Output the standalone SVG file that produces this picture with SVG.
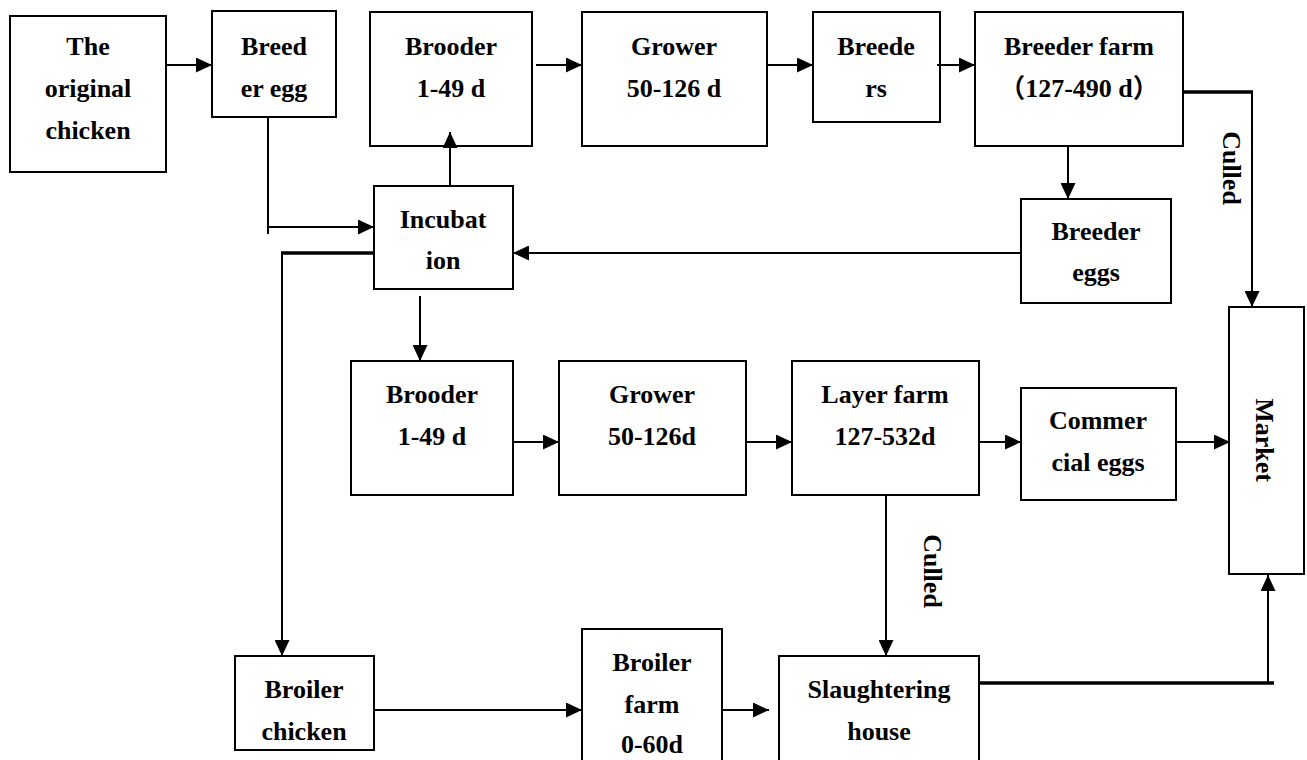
<svg xmlns="http://www.w3.org/2000/svg" width="1307" height="760" viewBox="0 0 1307 760">
<style>
.box{fill:#fff;stroke:#000;stroke-width:2}
.t{font-family:"Liberation Serif","Noto Sans CJK SC",serif;font-weight:bold;font-size:26px;text-anchor:middle;fill:#000}
.c{fill:none;stroke:#000;stroke-width:2}
.k{fill:none;stroke:#000;stroke-width:3.5}
</style>
<defs>
<marker id="a" markerUnits="userSpaceOnUse" markerWidth="16" markerHeight="15" refX="16" refY="7.5" orient="auto">
<path d="M0,0 L16,7.5 L0,15 z" fill="#000"/>
</marker>
</defs>
<rect width="1307" height="760" fill="#fff"/>
<g id="original">
<rect class="box" x="10" y="16" width="156" height="156"/>
<text class="t" x="88" y="55">The</text>
<text class="t" x="88" y="97">original</text>
<text class="t" x="88" y="139">chicken</text>
</g>
<g id="breederegg">
<rect class="box" x="212" y="11" width="124" height="106"/>
<text class="t" x="274" y="55">Breed</text>
<text class="t" x="274" y="97">er egg</text>
</g>
<g id="brooder1">
<rect class="box" x="370" y="12" width="162" height="134"/>
<text class="t" x="451" y="55">Brooder</text>
<text class="t" x="451" y="97">1-49 d</text>
</g>
<g id="grower1">
<rect class="box" x="582" y="12" width="185" height="134"/>
<text class="t" x="674" y="55">Grower</text>
<text class="t" x="674" y="97">50-126 d</text>
</g>
<g id="breeders">
<rect class="box" x="813" y="12" width="127" height="110"/>
<text class="t" x="876" y="55">Breede</text>
<text class="t" x="876" y="97">rs</text>
</g>
<g id="breederfarm">
<rect class="box" x="975" y="12" width="208" height="134"/>
<text class="t" x="1079" y="55">Breeder farm</text>
<text class="t" x="1079" y="97">（127-490 d）</text>
</g>
<g id="breedereggs">
<rect class="box" x="1021" y="199" width="150" height="104"/>
<text class="t" x="1096" y="240">Breeder</text>
<text class="t" x="1096" y="281">eggs</text>
</g>
<g id="incubation">
<rect class="box" x="374" y="186" width="139" height="103"/>
<text class="t" x="443" y="228">Incubat</text>
<text class="t" x="443" y="269">ion</text>
</g>
<g id="brooder2">
<rect class="box" x="351" y="361" width="162" height="134"/>
<text class="t" x="432" y="403">Brooder</text>
<text class="t" x="432" y="445">1-49 d</text>
</g>
<g id="grower2">
<rect class="box" x="559" y="361" width="187" height="134"/>
<text class="t" x="652" y="403">Grower</text>
<text class="t" x="652" y="445">50-126d</text>
</g>
<g id="layerfarm">
<rect class="box" x="792" y="361" width="187" height="134"/>
<text class="t" x="885" y="403">Layer farm</text>
<text class="t" x="885" y="445">127-532d</text>
</g>
<g id="commercialeggs">
<rect class="box" x="1021" y="388" width="155" height="112"/>
<text class="t" x="1098" y="429">Commer</text>
<text class="t" x="1098" y="471">cial eggs</text>
</g>
<g id="market">
<rect class="box" x="1229" y="307" width="75" height="267"/>
<text class="t" transform="translate(1265,440) rotate(90)" dy="9">Market</text>
</g>
<g id="broilerchicken">
<rect class="box" x="235" y="656" width="139" height="94"/>
<text class="t" x="304" y="698">Broiler</text>
<text class="t" x="304" y="740">chicken</text>
</g>
<g id="broilerfarm">
<rect class="box" x="582" y="629" width="140" height="140"/>
<text class="t" x="652" y="671">Broiler</text>
<text class="t" x="652" y="713">farm</text>
<text class="t" x="652" y="753">0-60d</text>
</g>
<g id="slaughter">
<rect class="box" x="779" y="656" width="200" height="120"/>
<text class="t" x="879" y="698">Slaughtering</text>
<text class="t" x="879" y="740">house</text>
</g>
<g id="connectors">
<path class="c" d="M166,65 H212" marker-end="url(#a)"/>
<path class="c" d="M268,117 V234"/>
<path class="c" d="M268,227 H374" marker-end="url(#a)"/>
<path class="c" d="M450,186 V132" marker-end="url(#a)"/>
<path class="c" d="M536,65 H582" marker-end="url(#a)"/>
<path class="c" d="M767,65 H813" marker-end="url(#a)"/>
<path class="c" d="M937,65 H975" marker-end="url(#a)"/>
<path class="k" d="M1183,92 H1253"/>
<path class="c" d="M1252,92 V307" marker-end="url(#a)"/>
<path class="c" d="M1068,146 V199" marker-end="url(#a)"/>
<path class="c" d="M1021,253 H513" marker-end="url(#a)"/>
<path class="k" d="M374,253 H281"/>
<path class="c" d="M282,252 V656" marker-end="url(#a)"/>
<path class="c" d="M420,296 V361" marker-end="url(#a)"/>
<path class="c" d="M513,442 H559" marker-end="url(#a)"/>
<path class="c" d="M746,442 H792" marker-end="url(#a)"/>
<path class="c" d="M979,442 H1021" marker-end="url(#a)"/>
<path class="c" d="M1176,442 H1230" marker-end="url(#a)"/>
<path class="c" d="M886,495 V656" marker-end="url(#a)"/>
<path class="c" d="M374,710 H582" marker-end="url(#a)"/>
<path class="c" d="M722,710 H769" marker-end="url(#a)"/>
<path class="k" d="M979,683 H1274"/>
<path class="c" d="M1268,683 V575" marker-end="url(#a)"/>
<text class="t" transform="translate(1232,168) rotate(90)" dy="9">Culled</text>
<text class="t" transform="translate(933,571) rotate(90)" dy="9">Culled</text>
</g>
</svg>
